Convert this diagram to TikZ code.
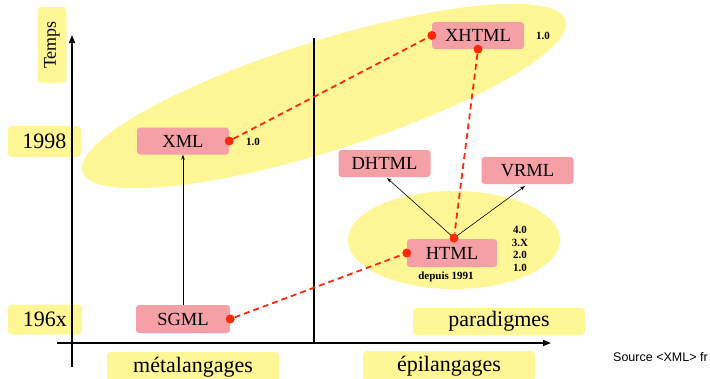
\documentclass[tikz,border=0pt]{standalone}
\usepackage{fontspec}
\setmainfont{Liberation Serif}
\newfontfamily\srcfont{Liberation Sans}
\usetikzlibrary{arrows.meta,shapes.geometric}
\definecolor{yel}{RGB}{255,246,150}
\definecolor{pinkc}{RGB}{244,160,166}
\definecolor{redc}{RGB}{255,40,10}
\begin{document}
\begin{tikzpicture}[x=1pt,y=-1pt,
  pbox/.style={fill=pinkc, rounded corners=3pt, minimum width=92pt, minimum height=27pt, inner sep=0pt, font=\fontsize{18.5}{19}\selectfont},
  ybox/.style={fill=yel, rounded corners=4pt, inner sep=0pt, font=\fontsize{22}{22}\selectfont},
  rdot/.style={circle, fill=redc, inner sep=0pt, minimum size=9pt},
  rdash/.style={draw=redc, line width=1.8pt, dash pattern=on 6pt off 4pt},
  thinarrow/.style={draw=black, line width=0.6pt, -{Stealth[length=5pt,width=3.5pt]}},
  axis/.style={draw=black, line width=1.6pt},
  tiny/.style={font=\bfseries\fontsize{11}{12.7}\selectfont, inner sep=0pt}
]
\useasboundingbox (0,0) rectangle (710,378);
% background ellipses
\fill[yel, rotate around={17.45:(324,96)}] (324,96) ellipse [x radius=253, y radius=55];
\fill[yel] (454,240) ellipse [x radius=106, y radius=49];
% axis labels
\node[ybox, rotate=90, minimum width=76pt, minimum height=29pt, font=\fontsize{18}{18}\selectfont] (temps) at (52,45) {Temps};
\node[ybox, minimum width=73pt, minimum height=31pt] (y1998) at (44.5,141.5) {1998};
\node[ybox, minimum width=74pt, minimum height=30pt] (y196x) at (45,319.5) {196x};
\node[ybox, minimum width=172pt, minimum height=27pt] (para) at (499,321.5) {paradigmes};
\node[ybox, minimum width=172pt, minimum height=30pt] (meta) at (193,367) {métalangages};
\node[ybox, minimum width=172pt, minimum height=30pt] (epi) at (449,366) {épilangages};
% axes
\coordinate (vb) at (72,367);
\coordinate (vt) at (72,35);
\coordinate (hl) at (57,343);
\coordinate (hr) at (551,343);
\coordinate (dt) at (314,38);
\coordinate (db) at (314,343);
\draw[axis, -{Triangle[length=8pt,width=6pt]}] (vb) -- (vt);
\draw[axis, -{Triangle[length=8pt,width=6pt]}] (hl) -- (hr);
\draw[axis] (dt) -- (db);
% language boxes
\node[pbox] (xml) at (183,141) {XML};
\node[pbox] (xhtml) at (478,35.5) {XHTML};
\node[pbox] (dhtml) at (384.5,163.5) {DHTML};
\node[pbox] (vrml) at (527.5,170.5) {VRML};
\node[pbox, minimum width=90pt, minimum height=28pt] (html) at (452,253) {HTML};
\node[pbox, minimum width=94pt, minimum height=28pt] (sgml) at (183,319) {SGML};
% thin arrows
\coordinate (htop) at (454,238);
\draw[thinarrow] (sgml.north) -- (xml.south);
\draw[thinarrow] (htop) -- (387,178);
\draw[thinarrow] (htop) -- (525,186);
% red dots
\node[rdot] (dxml) at (xml.east) {};
\node[rdot] (dxl) at (xhtml.west) {};
\node[rdot] (dxb) at (xhtml.south) {};
\node[rdot] (dht) at (htop) {};
\node[rdot] (dhl) at (html.west) {};
\node[rdot] (dsg) at (sgml.east) {};
\draw[rdash] (dxml) -- (dxl);
\draw[rdash] (dxb) -- (dht);
\draw[rdash] (dsg) -- (dhl);
% small labels
\node[tiny] (v1) at (253,142) {1.0};
\node[tiny] (v2) at (543,36) {1.0};
\node[tiny, align=center] (vers) at (520,249) {4.0\\3.X\\2.0\\1.0};
\node[tiny] (dep) at (446,277) {depuis 1991};
\node[anchor=west, inner sep=0pt, font=\srcfont\fontsize{12.5}{13}\selectfont] (src) at (613,357) {Source <XML> fr};
\end{tikzpicture}
\end{document}
